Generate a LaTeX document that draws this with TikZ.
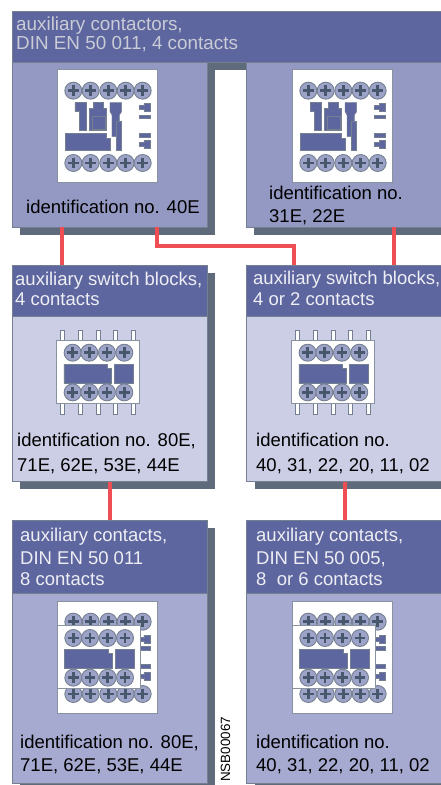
\documentclass[tikz,border=0pt]{standalone}
\usepackage{fontspec}
\setmainfont{Liberation Sans}
\definecolor{hdr}{HTML}{5D669E}
\definecolor{boxa}{HTML}{9499C4}
\definecolor{boxc}{HTML}{CCCEE5}
\definecolor{boxe}{HTML}{A6A9D0}
\definecolor{shade}{HTML}{5F6B7A}
\definecolor{edge}{HTML}{74808F}
\definecolor{wire}{HTML}{F04E55}
\definecolor{screwfill}{HTML}{9DA3C8}
\definecolor{screwx}{HTML}{47586C}
\definecolor{hdrtxt}{HTML}{EEEEF5}
\definecolor{toptxt}{HTML}{C9CBD6}
\newcommand{\scr}[2]{%
  \draw[edge,fill=screwfill,line width=.9pt] (#1,#2) circle[radius=25.5];
  \draw[screwx,line width=2.6pt] (#1-16,#2) -- (#1+16,#2) (#1,#2-16) -- (#1,#2+16);}
\tikzset{
  x=1pt,y=-1pt,
  panel/.style={draw=edge,line width=.9pt,anchor=north west,inner sep=0pt,outer sep=0pt},
  header/.style={panel,fill=hdr},
  drop/.style={fill=shade,draw=none},
  conn/.style={draw=wire,line width=4pt},
  lab/.style={anchor=base west,inner sep=0pt,font=\fontsize{18.5}{20}\selectfont,text=black},
  hlab/.style={lab,text=hdrtxt},
  tlab/.style={lab,font=\fontsize{18.85}{20}\selectfont,text=toptxt},
  part/.style={fill=hdr,draw=edge,line width=.4pt},
  face/.style={fill=white,draw=edge!85,line width=.9pt},
  zoomed/.style={x=1pt/3,y=-1pt/3},
  relaybody/.pic={
    \begin{scope}[zoomed]
    \filldraw[part] (225,308)--(260,308)--(260,392)--(238,392)--(238,335)--(225,335)--cycle;
    \filldraw[part] (280,308)--(310,308)--(310,325)--(320,325)--(320,392)--(268,392)--(268,325)--(280,325)--cycle;
    \draw[edge,line width=.7pt] (276,348) rectangle (316,388);
    \filldraw[part] (330,308)--(365,308)--(365,335)--(358,345)--(358,365)--(350,365)--(350,410)--(336,410)--(336,345)--(330,335)--cycle;
    \filldraw[part] (350,365)--(363,365)--(363,450)--(350,450)--cycle;
    \filldraw[part] (197,400)--(320,400)--(320,415)--(330,415)--(330,450)--(197,450)--cycle;
    \end{scope}
  },
  relaytabs/.pic={
    \begin{scope}[zoomed]
    \filldraw[part] (432,310)--(452,310)--(452,334)--(432,334)--(432,328)--(418,328)--(418,316)--(432,316)--cycle;
    \filldraw[part] (417,345) rectangle (452,356);
    \filldraw[part] (417,400) rectangle (452,411);
    \filldraw[part] (432,422)--(452,422)--(452,446)--(432,446)--(432,440)--(418,440)--(418,428)--(432,428)--cycle;
    \end{scope}
  },
  relay/.pic={
    \begin{scope}[zoomed]
    \draw[face] (172,208) rectangle (472,546);
    \foreach \q in {220,272,325,377,428}{\scr{\q}{272}\scr{\q}{489}}
    \end{scope}
    \pic {relaybody}; \pic {relaytabs};
  },
  blockcore/.pic={
    \begin{scope}[zoomed]
    \draw[face] (172,332) rectangle (420,521);
    \foreach \q in {220,270,323,375}{\scr{\q}{369}\scr{\q}{488}}
    \filldraw[part] (194,403)--(325,403)--(325,415)--(336,415)--(336,460)--(194,460)--cycle;
    \filldraw[part] (345,403) rectangle (402,460);
    \end{scope}
  },
  auxblock/.pic={
    \begin{scope}[zoomed]
    \foreach \q in {187,241,294,346,400}{
      \draw[fill=white,draw=edge,line width=.9pt] (\q-6,226) rectangle (\q+6,258);
      \draw[fill=white,draw=edge,line width=.9pt] (\q-6,445) rectangle (\q+6,479);}
    \end{scope}
    \pic at (-.7,-25.3) {blockcore};
  },
  stacked/.pic={
    \begin{scope}[zoomed]
    \draw[face] (172,258) rectangle (472,596);
    \foreach \q in {220,272,325,377,428}{\scr{\q}{320}\scr{\q}{537}}
    \filldraw[part] (432,360)--(452,360)--(452,385)--(432,385)--(432,378)--(420,378)--(420,367)--(432,367)--cycle;
    \filldraw[part] (420,395) rectangle (452,406);
    \filldraw[part] (420,449) rectangle (452,460);
    \filldraw[part] (432,472)--(452,472)--(452,496)--(432,496)--(432,490)--(420,490)--(420,479)--(432,479)--cycle;
    \end{scope}
    \pic at (0,0) {blockcore};
  },
}
\begin{document}
\begin{tikzpicture}
\useasboundingbox (0,0) rectangle (441,785);
% drop shadows
\fill[drop] (20,227) rectangle (215,235);
\fill[drop] (207,62) rectangle (215,235);
\fill[drop] (207,62) rectangle (247,70);
\fill[drop] (254,227) rectangle (441,235);
\fill[drop] (20,273) rectangle (215,489);
\fill[drop] (255,481) rectangle (441,489);
\fill[drop] (20,528) rectangle (215,785);
\fill[drop] (255,783) rectangle (441,785);
% panels
\node[panel,fill=boxa,minimum width=195,minimum height=165] (a) at (12,62) {};
\node[panel,fill=boxa,minimum width=195,minimum height=165] (b) at (246.5,62) {};
\node[header,minimum width=429,minimum height=50.5] (top) at (12,11.5) {};
\node[panel,fill=boxc,minimum width=195,minimum height=216.5] (c) at (12,265) {};
\node[header,minimum width=195,minimum height=51] (ch) at (12,265) {};
\node[panel,fill=boxc,minimum width=195,minimum height=216.5] (d) at (246.5,265) {};
\node[header,minimum width=195,minimum height=51] (dh) at (246.5,265) {};
\node[panel,fill=boxe,minimum width=195,minimum height=263] (e) at (12,520) {};
\node[header,minimum width=195,minimum height=73] (eh) at (12,520) {};
\node[panel,fill=boxe,minimum width=195,minimum height=263] (f) at (246.5,520) {};
\node[header,minimum width=195,minimum height=73] (fh) at (246.5,520) {};
% connectors
\draw[conn] ([xshift=50]a.south west) -- ([xshift=50]c.north west);
\draw[conn] ([xshift=145]a.south west) |- ([xshift=47.5,yshift=-19]b.south west) -- ([xshift=47.5]d.north west);
\draw[conn] ([xshift=147.5]b.south west) -- ([xshift=147.5]d.north west);
\draw[conn] ([xshift=98]c.south west) -- ([xshift=98]e.north west);
\draw[conn] ([xshift=98.5]d.south west) -- ([xshift=98.5]f.north west);
% devices
\pic at (0,0) {relay};
\pic at (235,0) {relay};
\pic at (0,255) {auxblock};
\pic at (235,255) {auxblock};
\pic at (0,515) {stacked};
\pic at (235,515) {stacked};
% texts
\node[tlab] (t1) at (16,30) {auxiliary contactors,};
\node[tlab] (t2) at (16,49) {DIN EN 50 011, 4 contacts};
\node[lab] (a1) at (26,213) {identification no. 40E};
\node[lab] (b1) at (269,199) {identification no.};
\node[lab] (b2) at (269,222.7) {31E, 22E};
\node[hlab] (c1) at (15,285) {auxiliary switch blocks,};
\node[hlab] (c2) at (15,305.5) {4 contacts};
\node[hlab] (d1) at (253,284) {auxiliary switch blocks,};
\node[hlab] (d2) at (253,305) {4 or 2 contacts};
\node[lab] (c3) at (17,446.7) {identification no. 80E,};
\node[lab] (c4) at (17,471) {71E, 62E, 53E, 44E};
\node[lab] (d3) at (256,446.7) {identification no.};
\node[lab] (d4) at (256,471) {40, 31, 22, 20, 11, 02};
\node[hlab] (e1) at (20,541.7) {auxiliary contacts,};
\node[hlab] (e2) at (20,564) {DIN EN 50 011};
\node[hlab] (e3) at (20,585) {8 contacts};
\node[hlab] (f1) at (256,541.7) {auxiliary contacts,};
\node[hlab] (f2) at (256,564) {DIN EN 50 005,};
\node[hlab] (f3) at (256,585) {8\ \ or 6 contacts};
\node[lab] (e4) at (20,748.3) {identification no. 80E,};
\node[lab] (e5) at (20,771.7) {71E, 62E, 53E, 44E};
\node[lab] (f4) at (256,748.3) {identification no.};
\node[lab] (f5) at (256,771.7) {40, 31, 22, 20, 11, 02};
\node[lab,font=\fontsize{13.4}{15}\selectfont,rotate=90] (code) at (230,782) {NSB00067};
\end{tikzpicture}
\end{document}
